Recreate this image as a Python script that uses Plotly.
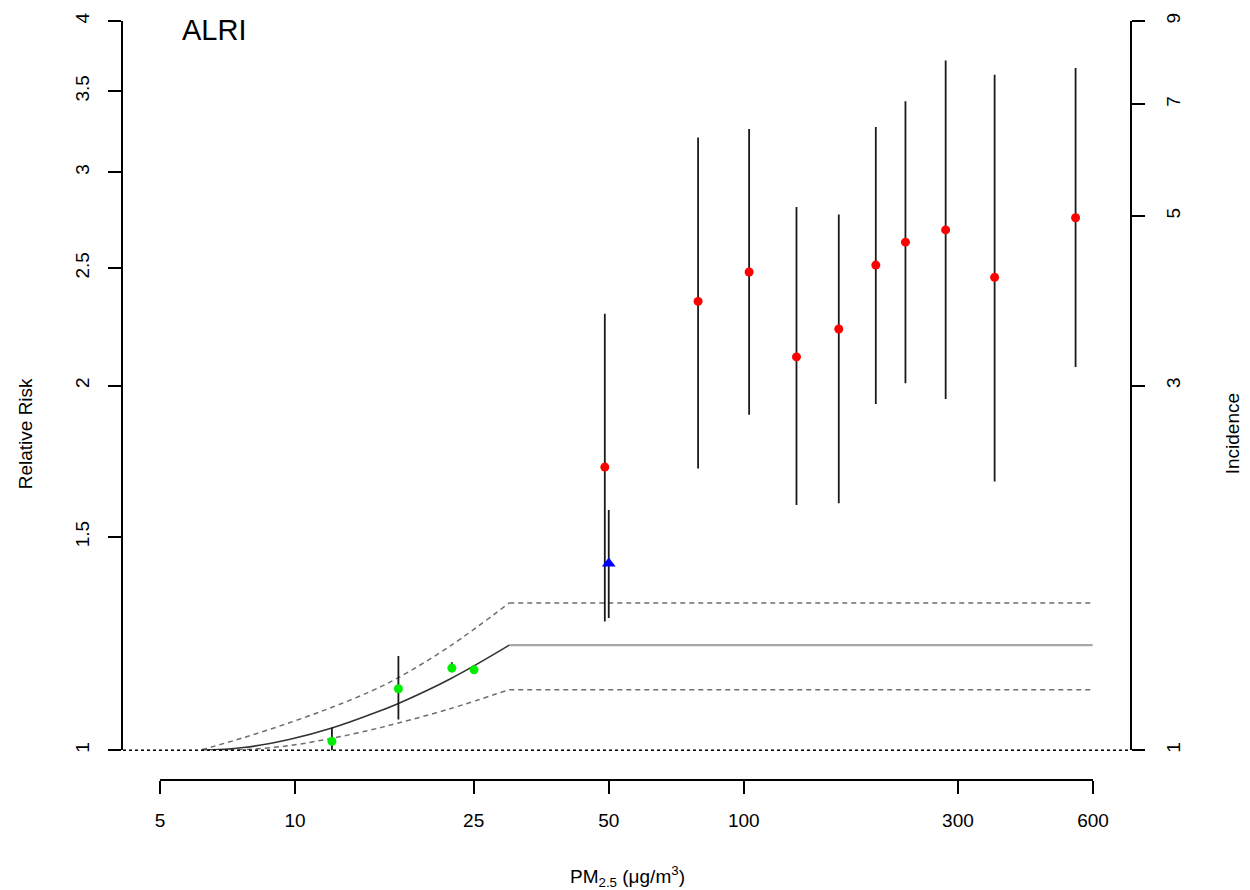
import plotly.graph_objects as go
import math

# ---------------- data ----------------
# integrated exposure-response curve (RR) and its bounds
curve_x = [6.19, 7.66, 9.74, 12.07, 14.69, 16.98, 22.14, 30.0]
rr_mid = [1.0, 1.005, 1.021, 1.043, 1.070, 1.093, 1.145, 1.221]
rr_hi = [1.001, 1.024, 1.054, 1.085, 1.118, 1.148, 1.219, 1.323]
rr_lo = [1.0, 1.001, 1.009, 1.023, 1.039, 1.053, 1.082, 1.122]
plateau_x = [30.0, 600.0]

# red points (household air pollution studies)
red_x = [49.0, 79.1, 102.8, 131.1, 162.9, 197.0, 229.4, 282.0, 362.6, 549.5]
red_rr = [1.713, 2.347, 2.482, 2.112, 2.227, 2.515, 2.627, 2.689, 2.457, 2.752]
red_hi = [2.293, 3.205, 3.258, 2.808, 2.769, 3.270, 3.434, 3.711, 3.612, 3.658]
red_lo = [1.277, 1.708, 1.892, 1.594, 1.599, 1.931, 2.009, 1.950, 1.667, 2.072]

# blue point (second-hand smoke)
blue_x = [50.0]
blue_rr = [1.426]
blue_hi = [1.579]
blue_lo = [1.286]

# green points (ambient air pollution studies)
green_x = [12.07, 16.98, 22.34, 25.04]
green_rr = [1.017, 1.124, 1.169, 1.165]
green_hi = [1.044, 1.196, 1.182, 1.165]
green_lo = [0.994, 1.060, 1.160, 1.165]

x_ticks = [5, 10, 25, 50, 100, 300, 600]
rr_ticks = [1, 1.5, 2, 2.5, 3, 3.5, 4]
inc_ticks = [1, 3, 5, 7, 9]

# ---------------- layout geometry ----------------
W, H = 1250, 890
L, R, T, B = 123, 120, 16, 110
PW, PH = W - L - R, H - T - B
Y_BOTTOM_PX = 750  # pixel of RR = 1


def px_x(px):
    return (px - L) / PW


def px_y(py):
    return (H - B - py) / PH


xmin, xmax = math.log10(x_ticks[0]), math.log10(x_ticks[-1])
ext = 0.04 * (xmax - xmin)

AX_FONT = dict(family="Liberation Sans, Arial, sans-serif", size=19, color="#000")

fig = go.Figure()


def errs(v, hi, lo):
    return [h - a for a, h in zip(v, hi)], [a - l for a, l in zip(v, lo)]


DASH = dict(color="#6e6e6e", width=1.5, dash="5px,4px")

# helper traces so the extra axes are drawn
fig.add_trace(go.Scatter(x=[10], y=[2], xaxis="x2", yaxis="y", mode="markers", marker=dict(opacity=0), hoverinfo="skip"))
fig.add_trace(go.Scatter(x=[10], y=[2], xaxis="x", yaxis="y2", mode="markers", marker=dict(opacity=0), hoverinfo="skip"))

# curves
fig.add_trace(go.Scatter(x=curve_x, y=rr_hi, mode="lines", line=dict(shape="spline", **DASH), hoverinfo="skip"))
fig.add_trace(go.Scatter(x=curve_x, y=rr_lo, mode="lines", line=dict(shape="spline", **DASH), hoverinfo="skip"))
fig.add_trace(go.Scatter(x=plateau_x, y=[rr_hi[-1]] * 2, mode="lines", line=DASH, hoverinfo="skip"))
fig.add_trace(go.Scatter(x=plateau_x, y=[rr_lo[-1]] * 2, mode="lines", line=DASH, hoverinfo="skip"))
fig.add_trace(go.Scatter(x=plateau_x, y=[rr_mid[-1]] * 2, mode="lines", line=dict(color="#a8a8a8", width=2.2), hoverinfo="skip"))
fig.add_trace(go.Scatter(x=curve_x, y=rr_mid, mode="lines", line=dict(color="#333333", width=1.6, shape="spline", smoothing=1.2), hoverinfo="skip"))

# points with error bars
ep, em = errs(green_rr, green_hi, green_lo)
fig.add_trace(go.Scatter(x=green_x, y=green_rr, mode="markers",
                         marker=dict(color="#00ee00", size=9, line=dict(width=0)),
                         error_y=dict(type="data", symmetric=False, array=ep, arrayminus=em, color="#1a1a1a", thickness=1.8, width=0)))
ep, em = errs(red_rr, red_hi, red_lo)
fig.add_trace(go.Scatter(x=red_x, y=red_rr, mode="markers",
                         marker=dict(color="#ff0000", size=9, line=dict(width=0)),
                         error_y=dict(type="data", symmetric=False, array=ep, arrayminus=em, color="#1a1a1a", thickness=1.8, width=0)))
ep, em = errs(blue_rr, blue_hi, blue_lo)
fig.add_trace(go.Scatter(x=blue_x, y=blue_rr, mode="markers",
                         marker=dict(color="#0000ff", size=12, symbol="triangle-up", line=dict(width=0)),
                         error_y=dict(type="data", symmetric=False, array=ep, arrayminus=em, color="#1a1a1a", thickness=1.8, width=0)))

ydom0 = px_y(Y_BOTTOM_PX)

fig.update_layout(
    width=W, height=H,
    margin=dict(l=L, r=R, t=T, b=B),
    paper_bgcolor="white", plot_bgcolor="rgba(0,0,0,0)",
    showlegend=False,
    xaxis=dict(type="log", range=[xmin - ext, xmax + ext], visible=False, domain=[0, 1]),
    xaxis2=dict(type="log", range=[xmin, xmax], domain=[px_x(160), px_x(1093)],
                anchor="free", position=0, side="bottom",
                showline=True, linecolor="#000", linewidth=1.5, showgrid=False, zeroline=False,
                ticks="outside", ticklen=13, tickwidth=1.5, tickcolor="#000",
                tickvals=x_ticks, ticktext=[str(v) for v in x_ticks],
                tickfont=AX_FONT, ticklabelstandoff=10),
    yaxis=dict(type="log", range=[0, math.log10(4)], domain=[ydom0, 1],
               showline=True, linecolor="#000", linewidth=1.5, showgrid=False, zeroline=False,
               ticks="outside", ticklen=13, tickwidth=1.5, tickcolor="#000",
               tickvals=rr_ticks, ticktext=[("%g" % v) for v in rr_ticks],
               tickangle=-90, tickfont=AX_FONT, ticklabelstandoff=12),
    yaxis2=dict(type="log", range=[0, math.log10(9)], overlaying="y", side="right", anchor="x",
                showline=True, linecolor="#000", linewidth=1.5, showgrid=False, zeroline=False,
                ticks="outside", ticklen=13, tickwidth=1.5, tickcolor="#000",
                tickvals=inc_ticks, ticktext=[str(v) for v in inc_ticks],
                tickangle=-90, tickfont=AX_FONT, ticklabelstandoff=12),
)

# dotted reference line at RR = 1
fig.add_shape(type="line", xref="x domain", yref="y domain", x0=0, x1=1, y0=0, y1=0,
              line=dict(color="#000", width=1.5, dash="dot"))

TXT = dict(family="Liberation Sans, Arial, sans-serif", color="#000")
fig.add_annotation(text="ALRI", x=px_x(214), y=px_y(25), xref="paper", yref="paper",
                   showarrow=False, font=dict(size=29, **TXT), xanchor="center", yanchor="middle")
fig.add_annotation(text="Relative Risk", x=px_x(25), y=px_y(432), xref="paper", yref="paper",
                   showarrow=False, textangle=-90, font=dict(size=19, **TXT), xanchor="center", yanchor="middle")
fig.add_annotation(text="Incidence", x=px_x(1232), y=px_y(432), xref="paper", yref="paper",
                   showarrow=False, textangle=-90, font=dict(size=19, **TXT), xanchor="center", yanchor="middle")
fig.add_annotation(text="PM<sub>2.5</sub> (μg/m<sup>3</sup>)", x=px_x(627), y=px_y(877), xref="paper", yref="paper",
                   showarrow=False, font=dict(size=19, **TXT), xanchor="center", yanchor="middle")

fig.write_html("out.html")
